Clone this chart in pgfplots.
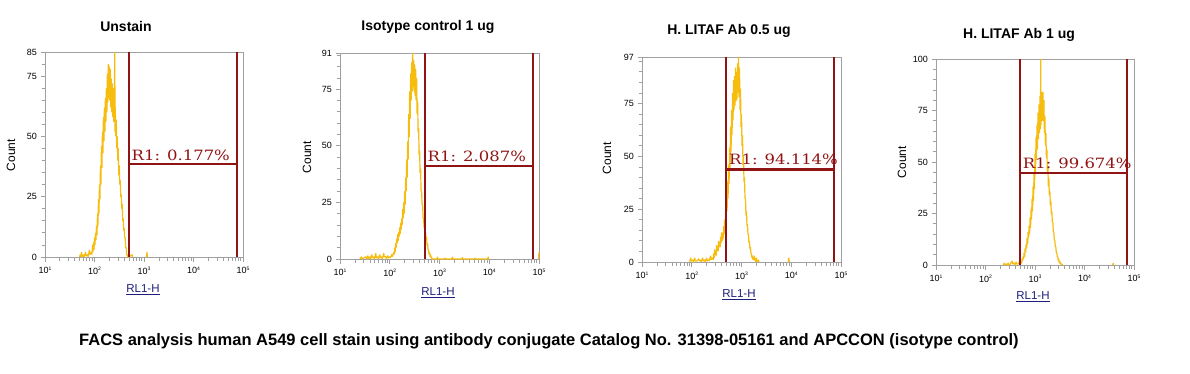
\documentclass[border=0pt]{standalone}
\usepackage{pgfplots}
\usepackage{pgfplotstable}
\pgfplotsset{compat=1.18}
\usepackage{fontspec}
\setmainfont{Liberation Sans}
\newfontfamily\gatefont{DejaVu Serif}
\definecolor{axgray}{RGB}{160,160,160}
\definecolor{gatered}{RGB}{145,20,20}
\definecolor{histo}{RGB}{246,188,14}
\definecolor{navy}{RGB}{30,30,125}
\newcommand\tp[1]{10\raisebox{3.5pt}{\fontsize{5}{5}\selectfont #1}}
\newcommand\gl[1]{\scalebox{1.16}[1]{\fontsize{14.2}{16}\gatefont #1}}

\pgfplotstableread{
lx c
1.70 0
1.71 1
1.72 0
1.74 2
1.75 0
1.78 1
1.79 0
1.82 2
1.83 0.5
1.86 1
1.87 0
1.90 3
1.91 1
1.94 2
1.95 1
1.96 5
1.97 2
1.98 6
1.99 3
2.00 8
2.01 5
2.02 10
2.03 7
2.04 13
2.05 9
2.06 18
2.07 13
2.08 24
2.09 18
2.10 30
2.11 24
2.12 38
2.13 30
2.14 46
2.15 37
2.16 52
2.17 43
2.18 58
2.19 48
2.20 62
2.21 52
2.22 66
2.23 56
2.24 70
2.25 60
2.26 76
2.27 64
2.28 80
2.29 66
2.30 79
2.31 65
2.32 78
2.33 62
2.34 74
2.35 60
2.36 72
2.37 58
2.38 70
2.39 56
2.40 66
2.41 85
2.415 52
2.42 62
2.43 50
2.44 57
2.45 45
2.46 50
2.47 40
2.48 45
2.49 34
2.50 38
2.51 30
2.52 32
2.53 25
2.54 26
2.55 20
2.56 22
2.57 15
2.58 16
2.59 11
2.60 12
2.61 8
2.62 8
2.63 4
2.64 4
2.65 1
2.66 1
2.67 0
2.70 0
2.76 1
2.77 0
nan nan
3.05 0
3.06 2
3.07 0
}\dataA

\pgfplotstableread{
lx c
1.40 0
1.43 1
1.44 0
1.48 0.5
1.52 1
1.53 0
1.56 1.5
1.57 0
1.60 1
1.61 0
1.64 2
1.65 0.5
1.68 1
1.69 0
1.72 2.5
1.73 0.5
1.76 1
1.77 0
1.80 2
1.81 0.5
1.84 1
1.85 0
1.88 2.5
1.89 1
1.92 1
1.93 0
1.96 1.5
1.97 0.5
2.00 1
2.01 0.5
2.04 2
2.05 1
2.08 3
2.09 2
2.10 5
2.11 3
2.12 7
2.13 5
2.14 9
2.15 7
2.16 11
2.17 8
2.18 12
2.19 10
2.20 14
2.21 11
2.22 16
2.23 13
2.24 18
2.25 15
2.26 22
2.27 18
2.28 25
2.29 20
2.30 30
2.31 24
2.32 36
2.33 30
2.34 44
2.35 36
2.36 52
2.37 44
2.38 64
2.39 54
2.40 74
2.41 62
2.42 82
2.43 70
2.44 87
2.45 74
2.46 91
2.47 76
2.48 88
2.49 74
2.50 86
2.51 72
2.52 84
2.53 70
2.54 80
2.55 64
2.56 70
2.57 56
2.58 58
2.59 46
2.60 48
2.61 38
2.62 40
2.63 30
2.64 30
2.65 24
2.66 24
2.67 18
2.68 18
2.69 14
2.70 14
2.71 10
2.72 12
2.73 8
2.74 10
2.75 6
2.76 7
2.77 4
2.78 4
2.79 2
2.80 3
2.81 1
2.82 2
2.83 0.5
2.84 1
2.85 0
2.95 0
2.96 1
2.97 0
3.10 0
3.11 0.5
3.12 0
3.25 0
3.26 1
3.27 0
3.45 0
3.46 0.7
3.47 0
3.70 0
3.71 0.5
3.72 0
3.97 0
3.98 1
3.99 0
nan nan
4.99 0
5.00 3
}\dataB

\pgfplotstableread{
lx c
1.96 0
1.98 2
1.99 0.5
2.02 1
2.03 0
2.06 2
2.07 0.5
2.10 0.5
2.14 1.5
2.15 0.5
2.18 1
2.19 0
2.22 2
2.23 0.5
2.26 1
2.27 0
2.30 2
2.31 0.5
2.34 1
2.35 0.5
2.38 3
2.39 1
2.42 2
2.43 1
2.44 4
2.45 2
2.46 6
2.47 3
2.48 5
2.49 3
2.50 8
2.51 5
2.52 7
2.53 5
2.54 10
2.55 7
2.56 9
2.57 7
2.58 12
2.59 9
2.60 14
2.61 10
2.62 13
2.63 11
2.64 17
2.65 13
2.66 20
2.67 16
2.68 24
2.69 19
2.70 30
2.71 24
2.72 38
2.73 30
2.74 46
2.75 37
2.76 54
2.77 44
2.78 64
2.79 52
2.80 72
2.81 60
2.82 80
2.83 67
2.84 86
2.85 72
2.86 88
2.87 74
2.88 92
2.89 76
2.90 90
2.91 77
2.92 94
2.93 80
2.94 97
2.95 78
2.96 92
2.97 72
2.98 82
2.99 64
3.00 70
3.01 55
3.02 60
3.03 46
3.04 50
3.05 38
3.06 40
3.07 30
3.08 30
3.09 22
3.10 24
3.11 17
3.12 18
3.13 13
3.14 13
3.15 9
3.16 10
3.17 6
3.18 7
3.19 4
3.20 4
3.21 2
3.22 3
3.23 1
3.24 2
3.25 1
3.26 3
3.27 0.5
3.28 1
3.29 0
3.30 2
3.31 0
3.34 1
3.35 0
nan nan
3.94 0
3.95 2
3.96 0
}\dataC

\pgfplotstableread{
lx c
2.36 0
2.38 1
2.39 0
2.42 0.5
2.43 0
2.46 1
2.47 0
2.50 0.5
2.54 2
2.55 0.5
2.58 1
2.59 0
2.62 1.5
2.63 0.5
2.66 0.5
2.70 2
2.71 0.5
2.72 1
2.73 1
2.74 3
2.75 2
2.76 4
2.77 3
2.78 6
2.79 4
2.80 8
2.81 6
2.82 10
2.83 8
2.84 13
2.85 10
2.86 16
2.87 13
2.88 19
2.89 15
2.90 23
2.91 18
2.92 27
2.93 22
2.94 32
2.95 26
2.96 38
2.97 31
2.98 45
2.99 37
3.00 54
3.01 44
3.02 62
3.03 51
3.04 68
3.05 56
3.06 74
3.07 61
3.08 78
3.09 64
3.10 82
3.11 66
3.115 100
3.12 68
3.13 84
3.14 70
3.15 80
3.16 84
3.17 70
3.18 80
3.19 64
3.20 72
3.21 58
3.22 64
3.23 52
3.24 56
3.25 45
3.26 48
3.27 38
3.28 42
3.29 34
3.30 36
3.31 29
3.32 31
3.33 25
3.34 26
3.35 21
3.36 21
3.37 16
3.38 16
3.39 12
3.40 12
3.41 9
3.42 9
3.43 6
3.44 6
3.45 4
3.46 4
3.47 2
3.48 3
3.49 1
3.50 2
3.51 0.5
3.52 1
3.53 0
3.54 0.5
3.56 0
nan nan
4.57 0
4.58 1
4.59 0
}\dataD

\pgfplotsset{
  facs/.style={
    scale only axis, clip=false,
    xmin=1, xmax=5, ymin=0,
    axis line style={draw=axgray, line width=0.9pt},
    xtick={1,2,3,4,5},
    xticklabels={\tp{1},\tp{2},\tp{3},\tp{4},\tp{5}},
    minor xtick={1.301,1.477,1.602,1.699,1.778,1.845,1.903,1.954,
                 2.301,2.477,2.602,2.699,2.778,2.845,2.903,2.954,
                 3.301,3.477,3.602,3.699,3.778,3.845,3.903,3.954,
                 4.301,4.477,4.602,4.699,4.778,4.845,4.903,4.954},
    xtick pos=lower, ytick pos=left,
    tick align=outside,
    major tick length=4.5pt, minor tick length=3.5pt,
    every tick/.style={draw=axgray, line width=0.8pt},
    /pgf/number format/assume math mode=true,
    tick label style={font=\fontsize{9}{10}\selectfont, text=black},
    xticklabel style={yshift=-2pt},
    unbounded coords=jump,
  },
  hist/.style={draw=histo, line width=1.2pt, no marks, line join=bevel},
  gate/.style={draw=gatered, line width=2pt, no marks},
}

\begin{document}
\begin{tikzpicture}
\path[use as bounding box] (0,0) rectangle (1190pt,373pt);

% Panel 1
\begin{axis}[facs, at={(45pt,116pt)}, anchor=south west,
  width=198pt, height=205pt, ymax=85,
  ytick={0,25,50,75,85},
  minor ytick={5,10,15,20,30,35,40,45,55,60,65,70,80}]
\addplot[hist] table[x=lx, y=c] {\dataA};
\addplot[gate] coordinates {(2.687,0) (2.687,85)};
\addplot[gate] coordinates {(4.872,0) (4.872,85)};
\addplot[gate] coordinates {(2.687,38.4) (4.872,38.4)};
\node[anchor=base west, text=gatered, inner sep=0pt, xshift=3pt, yshift=4pt]
  at (axis cs:2.687,38.4) {\gl{R1: 0.177\%}};
\end{axis}

% Panel 2
\begin{axis}[facs, at={(340pt,114pt)}, anchor=south west,
  width=199pt, height=206pt, ymax=91,
  ytick={0,25,50,75,91},
  minor ytick={5,10,15,20,30,35,40,45,55,60,65,70,80,85,90}]
\addplot[hist] table[x=lx, y=c] {\dataB};
\addplot[gate] coordinates {(2.699,0) (2.699,91)};
\addplot[gate] coordinates {(4.873,0) (4.873,91)};
\addplot[gate] coordinates {(2.699,41.2) (4.873,41.2)};
\node[anchor=base west, text=gatered, inner sep=0pt, xshift=3pt, yshift=4pt]
  at (axis cs:2.699,41.2) {\gl{R1: 2.087\%}};
\end{axis}

% Panel 3
\begin{axis}[facs, at={(642pt,111pt)}, anchor=south west,
  width=199pt, height=205pt, ymax=97,
  ytick={0,25,50,75,97},
  minor ytick={5,10,15,20,30,35,40,45,55,60,65,70,80,85,90,95}]
\addplot[hist] table[x=lx, y=c] {\dataC};
\addplot[gate] coordinates {(2.688,0) (2.688,97)};
\addplot[gate] coordinates {(4.86,0) (4.86,97)};
\addplot[gate, line width=3pt] coordinates {(2.688,43.9) (4.86,43.9)};
\node[anchor=base west, text=gatered, inner sep=0pt, xshift=3pt, yshift=5pt]
  at (axis cs:2.688,43.9) {\gl{R1: 94.114\%}};
\end{axis}

% Panel 4
\begin{axis}[facs, at={(936pt,108pt)}, anchor=south west,
  width=198pt, height=206pt, ymax=100,
  ytick={0,25,50,75,100},
  minor ytick={5,10,15,20,30,35,40,45,55,60,65,70,80,85,90,95}]
\addplot[hist] table[x=lx, y=c] {\dataD};
\addplot[gate] coordinates {(2.691,0) (2.691,100)};
\addplot[gate] coordinates {(4.866,0) (4.866,100)};
\addplot[gate] coordinates {(2.691,44.7) (4.866,44.7)};
\node[anchor=base west, text=gatered, inner sep=0pt, xshift=3pt, yshift=4pt]
  at (axis cs:2.691,44.7) {\gl{R1: 99.674\%}};
\end{axis}

% Titles
\begin{scope}[every node/.style={anchor=base, inner sep=0pt, font=\fontsize{14}{16}\selectfont\bfseries}]
\node at (126pt,341.3pt) {Unstain};
\node at (428pt,342.3pt) {Isotype control 1 ug};
\node at (729pt,338pt) {H. LITAF Ab 0.5 ug};
\node at (1019pt,334.7pt) {H. LITAF Ab 1 ug};
\end{scope}

% Count labels
\begin{scope}[every node/.style={rotate=90, inner sep=0pt, font=\fontsize{12}{14}\selectfont}]
\node at (11pt,218pt) {Count};
\node at (307pt,216pt) {Count};
\node at (607pt,215pt) {Count};
\node at (902pt,211pt) {Count};
\end{scope}

% x labels
\begin{scope}[every node/.style={inner sep=0pt, text=navy, font=\fontsize{11.5}{13}\selectfont}]
\node at (143pt,83pt) {\underline{RL1-H}};
\node at (438pt,80pt) {\underline{RL1-H}};
\node at (739pt,78pt) {\underline{RL1-H}};
\node at (1033pt,76pt) {\underline{RL1-H}};
\end{scope}

% Caption
\node[anchor=base, inner sep=0pt, font=\fontsize{16.5}{18}\selectfont\bfseries]
  at (549pt,28pt) {FACS analysis human A549 cell stain using antibody conjugate Catalog No. 31398-05161 and APCCON (isotype control)};
\end{tikzpicture}
\end{document}
